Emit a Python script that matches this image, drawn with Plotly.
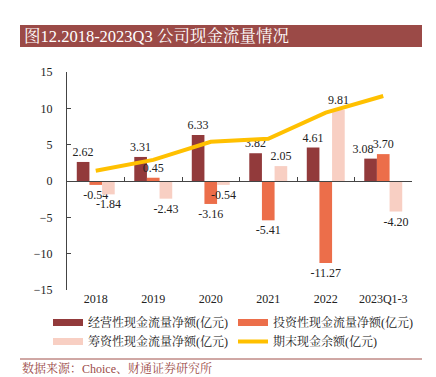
import plotly.graph_objects as go

categories = ["2018", "2019", "2020", "2021", "2022", "2023Q1-3"]
operating = [2.62, 3.31, 6.33, 3.82, 4.61, 3.08]
investing = [-0.54, 0.45, -3.16, -5.41, -11.27, 3.70]
financing = [-1.84, -2.43, -0.54, 2.05, 9.81, -4.20]
cash_end = [1.4, 2.9, 5.4, 5.8, 9.4, 11.7]
y_ticks = [15, 10, 5, 0, -5, -10, -15]

names = ["经营性现金流量净额(亿元)", "投资性现金流量净额(亿元)",
         "筹资性现金流量净额(亿元)", "期末现金余额(亿元)"]
colors = ["#923A3B", "#EC6E4A", "#F8CFC3", "#FFC000"]

W, H = 436, 377
L, R, T, B = 67, 24, 72, 87
pw, ph = W - L - R, H - T - B


def px(x):
    return (x - L) / pw


def py(y):
    return (H - B - y) / ph


SERIF = "Liberation Serif, Noto Serif CJK SC, Noto Sans CJK SC, serif"
NB = "\u00a0"
fig = go.Figure()

for i, (vals, name, col) in enumerate(zip([operating, investing, financing], names[:3], colors[:3])):
    labels = [f"{v:.2f}" for v in vals]
    if i == 0:
        # the reference nudges the last operating label left, away from its neighbour
        labels[-1] = labels[-1] + NB * 5
    fig.add_trace(go.Bar(
        x=categories, y=vals, name=name, marker_color=col, marker_line_width=0,
        text=labels, textposition="outside", constraintext="none",
        textfont=dict(family=SERIF, size=12, color="#222"),
        cliponaxis=False, showlegend=False,
    ))

fig.add_trace(go.Scatter(
    x=categories, y=cash_end, mode="lines", name=names[3],
    line=dict(color=colors[3], width=4), xaxis="x2", showlegend=False,
))

# legend entries
for name, col, w in zip(names, colors, [7, 7, 7, 4]):
    fig.add_trace(go.Scatter(x=[None], y=[None], mode="lines", name=name,
                             line=dict(color=col, width=w)))

fig.update_layout(
    width=W, height=H,
    margin=dict(l=L, r=R, t=T, b=B),
    paper_bgcolor="white", plot_bgcolor="white",
    barmode="group", bargap=0.34, bargroupgap=0,
    font=dict(family=SERIF, size=11, color="#222"),
    xaxis=dict(type="category", categoryarray=categories, showline=False,
               ticks="", showgrid=False, tickfont=dict(family=SERIF, size=12)),
    xaxis2=dict(type="category", categoryarray=categories, overlaying="x",
                anchor="free", position=0.5, side="bottom",
                showline=True, linecolor="#444", linewidth=1,
                ticks="inside", ticklen=4, tickcolor="#444", tickson="boundaries",
                showticklabels=False, showgrid=False, matches="x"),
    yaxis=dict(range=[-15, 15], tickvals=y_ticks, showline=True, linecolor="#444",
               linewidth=1, ticks="inside", ticklen=4, tickcolor="#444",
               ticklabelstandoff=11,
               showgrid=False, zeroline=False, tickfont=dict(family=SERIF, size=12)),
    legend=dict(orientation="h", x=px(48), xanchor="left", y=py(308), yanchor="top",
                entrywidth=140, entrywidthmode="pixels", tracegroupgap=0,
                font=dict(family=SERIF, size=12, color="#222"), bgcolor="rgba(0,0,0,0)"),
    showlegend=True,
)

fig.add_shape(type="rect", xref="paper", yref="paper",
              x0=px(20), x1=px(422), y0=py(47), y1=py(25),
              fillcolor="#9B4A47", line_width=0, layer="below")
fig.add_annotation(xref="paper", yref="paper", x=px(22), y=py(36), xanchor="left",
                   yanchor="middle", showarrow=False, text="图12.2018-2023Q3 公司现金流量情况",
                   font=dict(family=SERIF, size=16.5, color="white"))
fig.add_shape(type="line", xref="paper", yref="paper",
              x0=px(20), x1=px(422), y0=py(359), y1=py(359),
              line=dict(color="#A0504A", width=1))
fig.add_annotation(xref="paper", yref="paper", x=px(20), y=py(368), xanchor="left",
                   yanchor="middle", showarrow=False, text="数据来源：Choice、财通证券研究所",
                   font=dict(family=SERIF, size=12, color="#9B4A47"))

fig.write_html("out.html", post_script="document.body.style.margin='0';",
               config={"displayModeBar": False})
